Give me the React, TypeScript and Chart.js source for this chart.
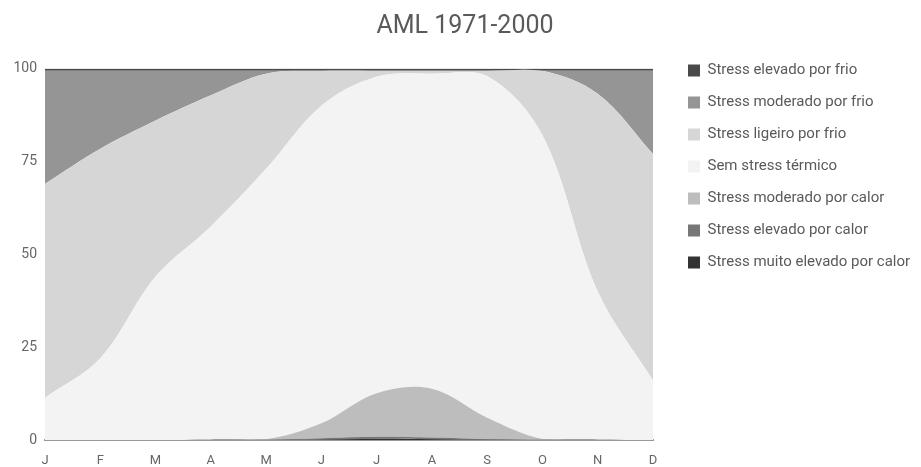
import React, { useEffect, useRef } from 'react';
import { Chart, registerables } from 'chart.js';

Chart.register(...registerables);

const chartTitle = 'AML 1971-2000';
const months = ['J', 'F', 'M', 'A', 'M', 'J', 'J', 'A', 'S', 'O', 'N', 'D'];
const yTickValues = [0, 25, 50, 75, 100];

// Stacked from bottom to top
const muitoElevadoCalor = [0, 0, 0, 0, 0, 0.1, 0.3, 0.2, 0, 0, 0, 0];
const elevadoCalor = [0, 0, 0, 0.1, 0.1, 0.4, 0.6, 0.5, 0.3, 0.1, 0.1, 0];
const moderadoCalor = [0, 0, 0, 0, 0.1, 4.0, 11.7, 13.1, 5.7, 0.2, 0, 0];
const semStress = [11.4, 22, 44, 57.4, 72.8, 85.5, 85.2, 84.8, 92, 81.7, 39.9, 16];
const ligeiroFrio = [57.6, 56.4, 42, 35.3, 25.6, 9.4, 1.6, 0.8, 1.4, 17.4, 53.2, 61];
const moderadoFrio = [30.4, 21, 13.4, 6.6, 0.8, 0, 0, 0, 0, 0, 6.2, 22.4];
const elevadoFrio = [0.6, 0.6, 0.6, 0.6, 0.6, 0.6, 0.6, 0.6, 0.6, 0.6, 0.6, 0.6];

const seriesLabels = [
  'Stress muito elevado por calor',
  'Stress elevado por calor',
  'Stress moderado por calor',
  'Sem stress térmico',
  'Stress ligeiro por frio',
  'Stress moderado por frio',
  'Stress elevado por frio',
];
const seriesValues = [muitoElevadoCalor, elevadoCalor, moderadoCalor, semStress, ligeiroFrio, moderadoFrio, elevadoFrio];
const seriesColors = ['#333333', '#777777', '#bdbdbd', '#f3f3f3', '#d6d6d6', '#959595', '#4a4a4a'];

const LEGEND_WIDTH = 268;
const LEGEND_LEFT = 671;
const LEGEND_TOP = 46;
const TITLE_LEFT = 9;

const layoutTweaks = {
  id: 'layoutTweaks',
  beforeLayout(chart: any) {
    const lg = chart.legend;
    if (lg && !lg.__patched) {
      const orig = lg.fit.bind(lg);
      lg.fit = function () {
        orig();
        this.width = LEGEND_WIDTH;
      };
      lg.__patched = true;
    }
  },
  afterLayout(chart: any) {
    const lg = chart.legend;
    if (lg) {
      lg.left = LEGEND_LEFT;
      lg.right = chart.width;
      lg.top = LEGEND_TOP;
    }
    const tb = chart.titleBlock;
    if (tb) {
      tb.left = TITLE_LEFT;
      tb.right = chart.width;
    }
  },
};

export default function App() {
  const canvasRef = useRef<HTMLCanvasElement | null>(null);

  useEffect(() => {
    if (!canvasRef.current) return;
    Chart.defaults.font.family = 'Roboto';
    const chart = new Chart(canvasRef.current, {
      type: 'line',
      data: {
        labels: months,
        datasets: seriesValues.map((vals, i) => ({
          label: seriesLabels[i],
          data: vals,
          backgroundColor: seriesColors[i],
          borderColor: seriesColors[i],
          borderWidth: 0,
          pointRadius: 0,
          pointHoverRadius: 0,
          fill: i === 0 ? 'origin' : '-1',
          cubicInterpolationMode: 'default',
          tension: 0.35,
        })),
      },
      options: {
        animation: false,
        responsive: true,
        maintainAspectRatio: false,
        layout: { padding: 0 },
        interaction: { mode: 'index', intersect: false },
        plugins: {
          tooltip: { enabled: false },
          title: {
            display: true,
            text: chartTitle,
            color: '#5a5a5a',
            font: { size: 25, weight: 'normal', family: 'Roboto' },
            padding: { top: 12, bottom: 26.5 },
          },
          legend: {
            display: true,
            position: 'right',
            align: 'start',
            reverse: true,
            labels: {
              boxWidth: 12,
              boxHeight: 12,
              padding: 17,
              color: '#5a5a5a',
              font: { size: 15, family: 'Roboto' },
            },
          },
        },
        scales: {
          x: {
            type: 'category',
            offset: false,
            z: 1,
            grid: { display: false, drawTicks: false },
            border: { display: true, color: '#999999', width: 2 },
            ticks: {
              color: '#666666',
              font: { size: 13, family: 'Roboto' },
              padding: 13,
              autoSkip: false,
              maxRotation: 0,
            },
            afterFit: (s: any) => {
              s.height = 27;
            },
          },
          y: {
            stacked: true,
            min: 0,
            max: 100,
            afterBuildTicks: (s: any) => {
              s.ticks = yTickValues.map((v) => ({ value: v }));
            },
            grid: { display: false, drawTicks: false },
            border: { display: false },
            ticks: {
              color: '#666666',
              font: { size: 14, family: 'Roboto' },
              padding: 8,
            },
            afterFit: (s: any) => {
              s.width = 45;
            },
          },
        },
      },
      plugins: [layoutTweaks],
    } as any);
    return () => chart.destroy();
  }, []);

  return (
    <div style={{ position: 'fixed', left: 0, top: 0, width: 921, height: 467, background: '#ffffff' }}>
      <canvas ref={canvasRef} />
    </div>
  );
}
